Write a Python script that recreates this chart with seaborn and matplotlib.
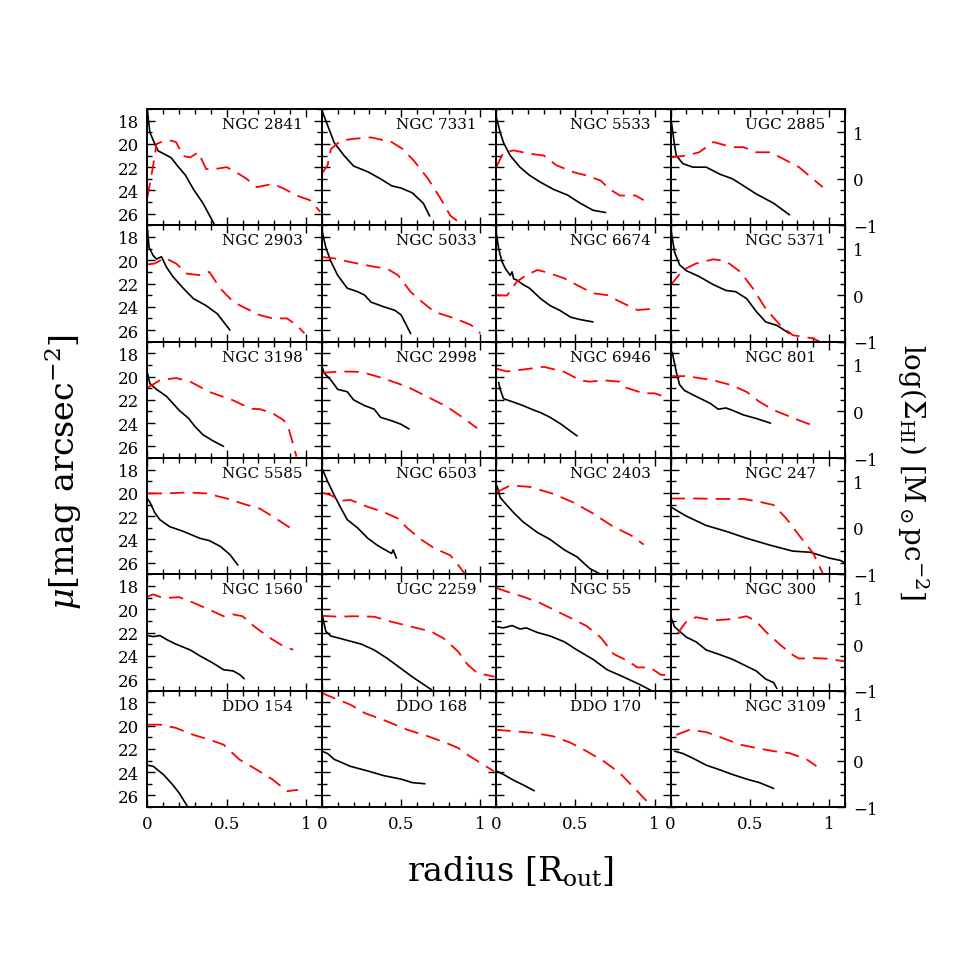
import seaborn as sns
import matplotlib.pyplot as plt
from matplotlib.ticker import MultipleLocator, FixedLocator

sns.set_style("ticks")
plt.rcParams['font.family'] = ['DejaVu Serif']
plt.rcParams['mathtext.fontset'] = 'dejavuserif'
plt.rcParams.update({'axes.edgecolor': 'black', 'xtick.color': 'black', 'ytick.color': 'black',
                     'text.color': 'black', 'axes.labelcolor': 'black'})

# --- surface brightness (radius, mu) and HI density (radius, log Sigma_HI) ---
ngc2841_opt = [(0, 17.2), (0.015, 19.0), (0.046, 20.0), (0.067, 20.6), (0.11, 20.9), (0.15, 21.2),
               (0.19, 21.9), (0.24, 22.7), (0.29, 23.9), (0.35, 25.1), (0.425, 27.0)]
ngc2841_hi = [(0, -0.39), (0.036, 0.29), (0.057, 0.75), (0.11, 0.82), (0.15, 0.82), (0.18, 0.79),
              (0.225, 0.49), (0.27, 0.46), (0.32, 0.57), (0.37, 0.21), (0.425, 0.21), (0.5, 0.25),
              (0.56, 0.14), (0.625, 0.0), (0.69, -0.18), (0.79, -0.11), (0.86, -0.21), (0.94, -0.36),
              (1.025, -0.46), (1.09, -0.71)]

ngc7331_opt = [(0, 17.1), (0.036, 18.4), (0.078, 19.9), (0.14, 21.0), (0.2, 21.9), (0.29, 22.4),
               (0.37, 23.0), (0.44, 23.6), (0.5, 23.8), (0.57, 24.2), (0.64, 25.1), (0.68, 26.2)]
ngc7331_hi = [(0, 0.11), (0.036, 0.29), (0.057, 0.64), (0.12, 0.82), (0.2, 0.86), (0.31, 0.89),
              (0.44, 0.79), (0.51, 0.64), (0.58, 0.39), (0.67, 0.0), (0.75, -0.43), (0.81, -0.79),
              (0.89, -1.0)]

ngc5533_opt = [(0, 17.7), (0.025, 19.0), (0.046, 19.9), (0.088, 21.0), (0.15, 22.0), (0.21, 22.7),
               (0.28, 23.3), (0.36, 23.9), (0.45, 24.4), (0.53, 25.1), (0.61, 25.7), (0.69, 25.9)]
ngc5533_hi = [(0, 0.25), (0.046, 0.57), (0.11, 0.61), (0.21, 0.54), (0.3, 0.5), (0.38, 0.29),
              (0.49, 0.14), (0.57, 0.07), (0.66, -0.04), (0.71, -0.21), (0.78, -0.36), (0.88, -0.36),
              (0.93, -0.46)]

ugc2885_opt = [(0.005, 18.1), (0.025, 20.1), (0.036, 21.0), (0.078, 21.7), (0.14, 22.0), (0.225, 22.0),
               (0.31, 22.6), (0.39, 23.0), (0.46, 23.6), (0.54, 24.3), (0.65, 25.1), (0.75, 26.1)]
ugc2885_hi = [(0, 0.46), (0.1, 0.5), (0.18, 0.57), (0.27, 0.79), (0.39, 0.68), (0.46, 0.68),
              (0.54, 0.57), (0.63, 0.57), (0.71, 0.43), (0.81, 0.25), (0.96, -0.18)]

ngc2903_opt = [(0, 17.4), (0.01, 18.9), (0.036, 19.6), (0.057, 19.9), (0.088, 19.7), (0.12, 20.6),
               (0.16, 21.4), (0.225, 22.4), (0.29, 23.3), (0.37, 23.9), (0.44, 24.6), (0.52, 26.0)]
ngc2903_hi = [(0, 0.66), (0.046, 0.68), (0.11, 0.8), (0.18, 0.68), (0.25, 0.46), (0.33, 0.43),
              (0.39, 0.5), (0.46, 0.14), (0.54, -0.14), (0.6, -0.25), (0.71, -0.43), (0.79, -0.5),
              (0.88, -0.5), (0.94, -0.64), (0.99, -0.82)]

ngc5033_opt = [(0, 17.4), (0.025, 18.9), (0.057, 20.1), (0.1, 21.3), (0.16, 22.4), (0.225, 22.7),
               (0.27, 23.0), (0.31, 23.6), (0.39, 24.0), (0.46, 24.3), (0.5, 24.7), (0.56, 26.3)]
ngc5033_hi = [(0, 0.82), (0.078, 0.79), (0.18, 0.71), (0.33, 0.61), (0.41, 0.57), (0.48, 0.43),
              (0.56, 0.07), (0.63, -0.14), (0.71, -0.36), (0.84, -0.5), (0.94, -0.64), (1.0, -0.82)]

ngc6674_opt = [(0, 17.6), (0.015, 19.0), (0.036, 20.1), (0.057, 20.7), (0.078, 21.1), (0.088, 21.3),
               (0.1, 21.0), (0.11, 21.6), (0.13, 21.7), (0.17, 22.1), (0.21, 22.4), (0.28, 23.3),
               (0.34, 23.9), (0.4, 24.3), (0.47, 24.9), (0.53, 25.1), (0.61, 25.3)]
ngc6674_hi = [(0, 0.0), (0.067, -0.01), (0.13, 0.29), (0.19, 0.43), (0.26, 0.54), (0.32, 0.49),
              (0.43, 0.36), (0.53, 0.18), (0.61, 0.04), (0.7, 0.0), (0.78, -0.14), (0.89, -0.32),
              (1.0, -0.29)]

ngc5371_opt = [(0.005, 17.6), (0.025, 19.3), (0.057, 20.4), (0.1, 20.9), (0.18, 21.4), (0.27, 22.1),
               (0.35, 22.6), (0.41, 22.7), (0.48, 23.3), (0.54, 24.4), (0.6, 25.3), (0.67, 25.6),
               (0.75, 26.3)]
ngc5371_hi = [(0, 0.21), (0.078, 0.54), (0.16, 0.68), (0.27, 0.77), (0.35, 0.73), (0.44, 0.5),
              (0.52, 0.14), (0.6, -0.29), (0.69, -0.64), (0.77, -0.86), (0.9, -0.93), (0.94, -1.0)]

ngc3198_opt = [(0, 19.7), (0.015, 20.6), (0.057, 21.1), (0.12, 21.7), (0.16, 22.3), (0.2, 22.9),
               (0.26, 23.6), (0.3, 24.3), (0.35, 25.0), (0.41, 25.5), (0.48, 26.0)]
ngc3198_hi = [(0, 0.51), (0.078, 0.67), (0.18, 0.72), (0.27, 0.64), (0.39, 0.42), (0.54, 0.24),
              (0.65, 0.06), (0.71, 0.05), (0.79, -0.04), (0.86, -0.19), (0.89, -0.36), (0.92, -0.72),
              (0.94, -0.97)]

ngc2998_opt = [(0, 19.1), (0.015, 19.7), (0.057, 20.3), (0.1, 21.1), (0.16, 21.3), (0.2, 22.0),
               (0.27, 22.5), (0.33, 22.8), (0.37, 23.5), (0.44, 23.8), (0.5, 24.1), (0.55, 24.5)]
ngc2998_hi = [(0, 0.83), (0.12, 0.86), (0.25, 0.85), (0.39, 0.71), (0.54, 0.53), (0.67, 0.31),
              (0.79, 0.1), (0.88, -0.11), (0.98, -0.36)]

ngc6946_opt = [(0.015, 20.5), (0.025, 21.1), (0.046, 21.9), (0.11, 22.2), (0.17, 22.5), (0.24, 22.9),
               (0.28, 23.1), (0.34, 23.5), (0.41, 24.1), (0.51, 25.1)]
ngc6946_hi = [(0, 0.92), (0.067, 0.86), (0.19, 0.91), (0.3, 0.96), (0.43, 0.85), (0.53, 0.67),
              (0.59, 0.64), (0.68, 0.67), (0.78, 0.64), (0.82, 0.51), (0.93, 0.39), (1.0, 0.39),
              (1.09, 0.28)]

ngc801_opt = [(0.01, 17.9), (0.036, 19.6), (0.057, 20.7), (0.088, 21.2), (0.16, 21.7), (0.25, 22.3),
              (0.3, 22.8), (0.35, 22.7), (0.39, 22.9), (0.46, 23.3), (0.54, 23.6), (0.63, 24.0)]
ngc801_hi = [(0, 0.76), (0.1, 0.76), (0.27, 0.67), (0.39, 0.56), (0.48, 0.42), (0.56, 0.21),
             (0.65, 0.03), (0.73, -0.08), (0.81, -0.19), (0.92, -0.33)]

ngc5585_opt = [(0, 20.5), (0.015, 20.8), (0.046, 21.7), (0.078, 22.3), (0.14, 22.9), (0.225, 23.3),
               (0.33, 23.9), (0.39, 24.1), (0.46, 24.6), (0.52, 25.3), (0.57, 26.2)]
ngc5585_hi = [(0, 0.74), (0.12, 0.74), (0.25, 0.76), (0.37, 0.74), (0.5, 0.63), (0.6, 0.52),
              (0.71, 0.41), (0.81, 0.2), (0.94, -0.09)]

ngc6503_opt = [(0.005, 18.0), (0.036, 19.0), (0.078, 20.2), (0.12, 21.3), (0.16, 22.3), (0.225, 23.0),
               (0.29, 23.9), (0.35, 24.5), (0.4, 24.9), (0.44, 25.2), (0.45, 24.9), (0.47, 25.6)]
ngc6503_hi = [(0, 0.76), (0.057, 0.7), (0.12, 0.58), (0.18, 0.6), (0.29, 0.45), (0.39, 0.34),
              (0.48, 0.2), (0.54, -0.01), (0.63, -0.26), (0.71, -0.44), (0.81, -0.59), (0.86, -0.8),
              (0.9, -0.98)]

ngc2403_opt = [(0.005, 19.4), (0.025, 20.4), (0.057, 20.9), (0.11, 21.7), (0.17, 22.5), (0.26, 23.4),
               (0.34, 24.0), (0.43, 24.9), (0.51, 25.5), (0.59, 26.5), (0.66, 27.0)]
ngc2403_hi = [(0, 0.76), (0.088, 0.91), (0.21, 0.88), (0.36, 0.73), (0.49, 0.54), (0.61, 0.31),
              (0.74, 0.02), (0.85, -0.16), (0.93, -0.36)]

ngc247_opt = [(0, 21.2), (0.1, 22.0), (0.225, 22.8), (0.35, 23.3), (0.48, 23.9), (0.63, 24.5),
              (0.77, 25.0), (0.88, 25.1), (1.0, 25.6), (1.07, 25.8), (1.1, 26.0)]
ngc247_hi = [(0, 0.63), (0.16, 0.63), (0.31, 0.62), (0.46, 0.62), (0.56, 0.56), (0.65, 0.49),
             (0.73, 0.2), (0.81, -0.16), (0.9, -0.55), (0.96, -0.98)]

ngc1560_opt = [(0, 22.26), (0.036, 22.35), (0.078, 22.26), (0.12, 22.6), (0.18, 23.0), (0.27, 23.5),
               (0.33, 24.0), (0.41, 24.6), (0.48, 25.2), (0.54, 25.3), (0.58, 25.6), (0.61, 25.97)]
ngc1560_hi = [(0, 1.02), (0.036, 1.07), (0.1, 0.99), (0.2, 1.01), (0.29, 0.89), (0.39, 0.74),
              (0.48, 0.6), (0.54, 0.64), (0.6, 0.6), (0.67, 0.39), (0.77, 0.14), (0.86, -0.05),
              (0.92, -0.12)]

ugc2259_opt = [(0, 20.3), (0.015, 21.3), (0.025, 21.9), (0.057, 22.3), (0.14, 22.6), (0.25, 23.0),
               (0.33, 23.5), (0.41, 24.2), (0.5, 25.1), (0.58, 25.9), (0.69, 26.9)]
ugc2259_hi = [(0, 0.61), (0.1, 0.59), (0.2, 0.6), (0.33, 0.59), (0.44, 0.48), (0.56, 0.38),
              (0.69, 0.27), (0.77, 0.12), (0.86, -0.16), (0.92, -0.44), (0.98, -0.62), (1.09, -0.7)]

ngc55_opt = [(0, 21.5), (0.046, 21.6), (0.1, 21.4), (0.15, 21.7), (0.19, 21.6), (0.26, 22.0),
             (0.34, 22.3), (0.43, 22.8), (0.51, 23.5), (0.61, 24.3), (0.7, 25.2), (0.8, 25.8),
             (0.91, 26.5), (0.98, 27.0)]
ngc55_hi = [(0, 1.21), (0.067, 1.13), (0.17, 1.02), (0.28, 0.88), (0.38, 0.71), (0.49, 0.53),
            (0.57, 0.39), (0.66, 0.14), (0.74, -0.21), (0.83, -0.36), (0.89, -0.5), (0.97, -0.5),
            (1.04, -0.66), (1.1, -0.66)]

ngc300_opt = [(0, 20.6), (0.025, 21.5), (0.057, 21.9), (0.1, 22.4), (0.16, 22.8), (0.225, 23.5),
              (0.31, 23.9), (0.39, 24.3), (0.48, 24.9), (0.54, 25.3), (0.6, 26.0), (0.65, 26.3),
              (0.67, 26.8)]
ngc300_hi = [(0.046, 0.24), (0.1, 0.49), (0.16, 0.58), (0.27, 0.51), (0.39, 0.54), (0.48, 0.6),
             (0.54, 0.49), (0.6, 0.27), (0.69, -0.01), (0.77, -0.23), (0.81, -0.31), (0.9, -0.3),
             (0.98, -0.31), (1.1, -0.37)]

ddo154_opt = [(0, 23.4), (0.036, 23.5), (0.1, 24.2), (0.16, 25.1), (0.2, 25.8), (0.25, 26.9)]
ddo154_hi = [(0, 0.77), (0.078, 0.77), (0.18, 0.7), (0.29, 0.55), (0.39, 0.45), (0.48, 0.34),
             (0.58, 0.02), (0.69, -0.2), (0.79, -0.41), (0.88, -0.66), (0.95, -0.63)]

ddo168_opt = [(0, 22.2), (0.036, 22.4), (0.078, 22.9), (0.18, 23.5), (0.29, 23.9), (0.39, 24.3),
              (0.5, 24.6), (0.57, 24.9), (0.65, 25.0)]
ddo168_hi = [(0, 1.45), (0.078, 1.34), (0.18, 1.2), (0.27, 1.02), (0.39, 0.87), (0.54, 0.66),
             (0.67, 0.52), (0.79, 0.37), (0.86, 0.27), (0.92, 0.12), (1.0, -0.05), (1.085, -0.23)]

ddo170_opt = [(0, 23.9), (0.046, 24.2), (0.11, 24.7), (0.17, 25.1), (0.24, 25.6)]
ddo170_hi = [(0, 0.66), (0.11, 0.63), (0.24, 0.59), (0.36, 0.52), (0.47, 0.38), (0.57, 0.2),
             (0.68, -0.02), (0.78, -0.27), (0.89, -0.66), (0.99, -1.02)]

ngc3109_opt = [(0.025, 22.2), (0.078, 22.4), (0.14, 22.8), (0.225, 23.4), (0.31, 23.8), (0.39, 24.2),
               (0.48, 24.6), (0.56, 24.9), (0.65, 25.4)]
ngc3109_hi = [(0.036, 0.55), (0.12, 0.66), (0.225, 0.61), (0.33, 0.48), (0.44, 0.34), (0.54, 0.27),
              (0.65, 0.2), (0.75, 0.16), (0.86, 0.02), (0.92, -0.12)]

panels = [
    ("NGC 2841", ngc2841_opt, ngc2841_hi), ("NGC 7331", ngc7331_opt, ngc7331_hi),
    ("NGC 5533", ngc5533_opt, ngc5533_hi), ("UGC 2885", ugc2885_opt, ugc2885_hi),
    ("NGC 2903", ngc2903_opt, ngc2903_hi), ("NGC 5033", ngc5033_opt, ngc5033_hi),
    ("NGC 6674", ngc6674_opt, ngc6674_hi), ("NGC 5371", ngc5371_opt, ngc5371_hi),
    ("NGC 3198", ngc3198_opt, ngc3198_hi), ("NGC 2998", ngc2998_opt, ngc2998_hi),
    ("NGC 6946", ngc6946_opt, ngc6946_hi), ("NGC 801", ngc801_opt, ngc801_hi),
    ("NGC 5585", ngc5585_opt, ngc5585_hi), ("NGC 6503", ngc6503_opt, ngc6503_hi),
    ("NGC 2403", ngc2403_opt, ngc2403_hi), ("NGC 247", ngc247_opt, ngc247_hi),
    ("NGC 1560", ngc1560_opt, ngc1560_hi), ("UGC 2259", ugc2259_opt, ugc2259_hi),
    ("NGC 55", ngc55_opt, ngc55_hi), ("NGC 300", ngc300_opt, ngc300_hi),
    ("DDO 154", ddo154_opt, ddo154_hi), ("DDO 168", ddo168_opt, ddo168_hi),
    ("DDO 170", ddo170_opt, ddo170_hi), ("NGC 3109", ngc3109_opt, ngc3109_hi),
]

fig, axes = plt.subplots(6, 4, figsize=(9.54, 9.54), dpi=100, sharex=True, sharey=True)
fig.subplots_adjust(left=0.1546, right=0.8857, bottom=0.153, top=0.8847, wspace=0, hspace=0)

for k, (name, opt, hi) in enumerate(panels):
    row, col = divmod(k, 4)
    ax = axes[row, col]
    ax2 = ax.twinx()

    sns.lineplot(x=[p[0] for p in opt], y=[p[1] for p in opt], ax=ax, color='black',
                 lw=1.2, sort=False, estimator=None)
    sns.lineplot(x=[p[0] for p in hi], y=[p[1] for p in hi], ax=ax2, color='red',
                 lw=1.3, sort=False, estimator=None, linestyle=(0, (8, 4.5)))

    ax.set_xlim(0, 1.1)
    ax.set_ylim(27, 17)
    ax2.set_ylim(-1, 1.5)
    ax.set_xlabel('')
    ax.set_ylabel('')
    ax2.set_ylabel('')

    ax.xaxis.set_major_locator(FixedLocator([0, 0.5, 1]))
    ax.xaxis.set_minor_locator(MultipleLocator(0.1))
    ax.yaxis.set_major_locator(FixedLocator([18, 20, 22, 24, 26]))
    ax.yaxis.set_minor_locator(MultipleLocator(1))
    ax.tick_params(which='both', direction='in', top=True, bottom=True, left=True,
                   right=(col < 3), labelsize=12, width=1.0, pad=6, labelbottom=(row == 5),
                   labelleft=(col == 0))
    ax.tick_params(which='major', length=6)
    ax.tick_params(which='minor', length=3.5)
    if row == 5:
        ax.set_xticklabels(['0', '0.5', '1'])

    ax2.yaxis.set_major_locator(FixedLocator([-1, 0, 1]))
    ax2.yaxis.set_minor_locator(MultipleLocator(0.25))
    if col == 3:
        ax2.tick_params(which='both', direction='in', right=True, labelright=True, labelsize=12,
                        width=1.0, pad=6)
        ax2.tick_params(which='major', length=6)
        ax2.tick_params(which='minor', length=3.5)
    else:
        ax2.tick_params(which='both', right=False, labelright=False)

    for sp in ax.spines.values():
        sp.set_linewidth(1.2)
    for sp in ax2.spines.values():
        sp.set_linewidth(1.2)

    ax.text(0.425, 0.87, name, transform=ax.transAxes, fontsize=11, ha='left', va='center')

fig.text(0.535, 0.086, r'radius [R$_{\rm out}$]', fontsize=24, ha='center', va='center')
fig.text(0.066, 0.505, r'$\mu$[mag arcsec$^{-2}$]', fontsize=24, ha='center', va='center',
         rotation=90)
fig.text(0.957, 0.505, r'log($\Sigma_{\rm HI}$) [M$_\odot$pc$^{-2}$]', fontsize=20,
         ha='center', va='center', rotation=270)

fig.savefig('out.png', dpi=100)
